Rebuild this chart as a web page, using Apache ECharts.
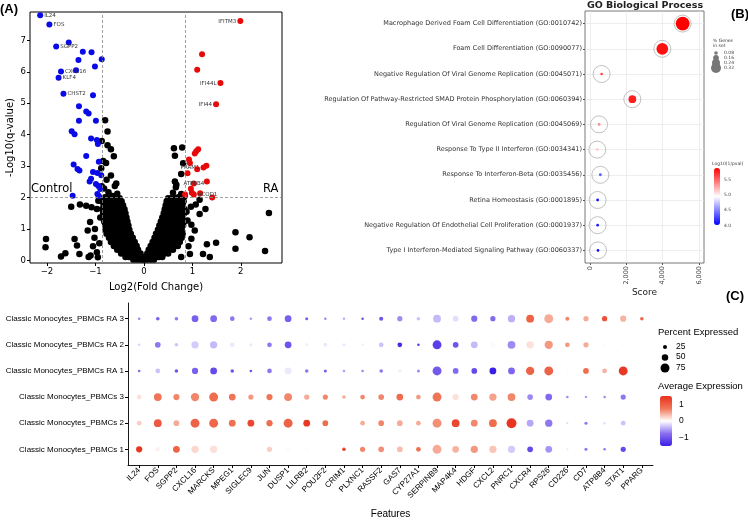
<!DOCTYPE html>
<html>
<head>
<meta charset="utf-8">
<script src="https://cdn.jsdelivr.net/npm/echarts@6/dist/echarts.min.js"></script>
<style>
html,body{margin:0;padding:0;background:#fff;}
#chart{width:748px;height:520px;}
</style>
</head>
<body>
<div id="chart"></div>
<script>
// ---- (A) volcano ----
var downGenes = [
    {name: 'IL24', value: [-2.14, 7.80]}, {name: 'FOS', value: [-1.95, 7.50]},
    {name: 'SGPP2', value: [-1.81, 6.80]}, {name: 'CXCL16', value: [-1.71, 6.01]},
    {name: 'KLF4', value: [-1.76, 5.81]}, {name: 'CHST2', value: [-1.66, 5.30]}
];
var downPts = [[-1.55,6.93],[-1.26,6.64],[-1.08,6.62],[-0.87,6.40],[-1.35,6.37],[-1.40,6.05],[-1.01,6.17],
    [-1.05,5.25],[-1.34,4.90],[-1.19,4.74],[-1.14,4.67],[-1.34,4.44],[-0.99,4.44],[-1.49,4.11],[-1.43,4.01],
    [-1.09,3.88],[-0.97,3.83],[-0.95,3.70],[-1.19,3.32],[-0.93,3.14],[-1.45,3.05],[-1.37,2.91],[-1.33,2.86],
    [-1.05,2.81],[-0.96,2.78],[-0.88,2.71],[-1.09,2.60],[-1.12,2.51],[-0.99,2.43],[-0.94,2.37],[-0.90,2.27],
    [-0.96,2.11],[-0.93,2.05],[-1.47,2.06]];
var upGenes = [
    {name: 'IFITM3', value: [1.99, 7.61], pos: 'left'}, {name: 'IFI44L', value: [1.58, 5.64], pos: 'left'},
    {name: 'IFI44', value: [1.49, 4.97], pos: 'left'}, {name: 'PRAM1', value: [1.23, 2.96], pos: 'left'},
    {name: 'ATP8B4', value: [1.03, 2.45], pos: 'inside'}, {name: 'ACOD1', value: [1.03, 2.10], pos: 'right'}
];
var upPts = [[1.20,6.56],[1.10,6.06],[1.12,3.54],[1.08,3.47],[1.05,3.40],[0.93,3.21],[0.95,3.10],[1.29,3.01],
    [1.10,2.90],[0.90,2.77],[1.30,2.51],[0.97,2.28],[0.99,2.15],[1.16,2.14],[0.85,2.10],[1.41,2.00]];
var nsPts = [[-0.80,4.46],[-0.75,4.10],[-0.87,3.80],[-0.75,3.66],[-0.68,3.54],[-0.62,3.31],[-0.84,3.16],[-0.78,3.10],
    [-0.88,2.93],[-0.68,2.70],[-0.77,2.57],[-0.57,2.45],[-0.60,2.37],[-0.87,2.36],[-0.82,2.29],[-0.73,2.17],
    [-0.80,2.01],[-0.55,2.12],[-0.65,2.05],
    [0.62,3.57],[0.79,3.59],[0.64,3.33],[0.81,3.09],[0.77,2.75],[0.64,2.51],[0.67,2.41],[0.66,2.33],[0.77,2.11],
    [0.84,2.04],[0.71,2.01],[0.60,2.15],
    [-1.50,1.71],[-1.32,1.78],[-1.19,1.74],[-1.08,1.69],[-0.97,1.64],[-1.43,0.68],[-1.38,0.48],[-2.02,0.68],
    [-2.03,0.42],[-1.71,0.13],[-1.62,0.23],[-1.33,0.21],[-1.14,0.11],[-1.10,0.16],[-0.97,0.26],[-1.11,1.22],
    [-1.16,0.95],[-1.01,1.00],[-1.02,0.72],[-0.90,1.37],[-0.94,1.90],[-1.05,0.45],[-0.92,0.55],[-0.95,0.10],
    [2.58,1.51],[2.18,0.74],[1.89,0.90],[1.89,0.37],[2.50,0.30],[1.49,0.56],[1.30,0.52],[1.22,0.21],[1.36,0.11],
    [0.98,0.69],[1.15,1.48],[1.27,1.64],[0.97,1.71],[1.07,1.78],[0.90,1.27],[0.98,1.14],[1.15,1.93],[0.95,0.21],
    [0.77,0.11],[0.92,0.45],[1.05,0.95],[0.88,1.55]];
// dense cloud, by q-value rows
var nsRows = [
    [1.98, [-0.84,-0.77,-0.70,-0.63,-0.56,-0.50, 0.50,0.57,0.64,0.71,0.78]],
    [1.88, [-0.87,-0.80,-0.73,-0.66,-0.59,-0.52,-0.46, 0.47,0.54,0.61,0.68,0.75,0.82]],
    [1.76, [-0.83,-0.76,-0.69,-0.62,-0.55,-0.48,-0.43, 0.45,0.52,0.59,0.66,0.73,0.80]],
    [1.63, [-0.86,-0.79,-0.72,-0.65,-0.58,-0.51,-0.44,-0.40, 0.43,0.50,0.57,0.64,0.71,0.78,0.84]],
    [1.50, [-0.84,-0.77,-0.70,-0.63,-0.56,-0.49,-0.42,-0.38, 0.41,0.48,0.55,0.62,0.69,0.76,0.83]],
    [1.37, [-0.85,-0.78,-0.71,-0.64,-0.57,-0.50,-0.43,-0.36, 0.38,0.45,0.52,0.59,0.66,0.73,0.80]],
    [1.24, [-0.82,-0.75,-0.68,-0.61,-0.54,-0.47,-0.40,-0.34, 0.35,0.42,0.49,0.56,0.63,0.70,0.77,0.83]],
    [1.11, [-0.80,-0.73,-0.66,-0.59,-0.52,-0.45,-0.38,-0.32, 0.32,0.39,0.46,0.53,0.60,0.67,0.74,0.81]],
    [0.98, [-0.79,-0.72,-0.65,-0.58,-0.51,-0.44,-0.37,-0.30, 0.29,0.36,0.43,0.50,0.57,0.64,0.71,0.78]],
    [0.85, [-0.77,-0.70,-0.63,-0.56,-0.49,-0.42,-0.35,-0.27, 0.25,0.32,0.39,0.46,0.53,0.60,0.67,0.74,0.80]],
    [0.72, [-0.72,-0.65,-0.58,-0.51,-0.44,-0.37,-0.30,-0.23, 0.22,0.29,0.36,0.43,0.50,0.57,0.64,0.71,0.78]],
    [0.59, [-0.68,-0.61,-0.54,-0.47,-0.40,-0.33,-0.26,-0.19, 0.18,0.25,0.32,0.39,0.46,0.53,0.60,0.67,0.74]],
    [0.46, [-0.62,-0.55,-0.48,-0.41,-0.34,-0.27,-0.20,-0.15, 0.14,0.21,0.28,0.35,0.42,0.49,0.56,0.63,0.70]],
    [0.34, [-0.55,-0.48,-0.41,-0.34,-0.27,-0.20,-0.12, 0.10,0.17,0.24,0.31,0.38,0.45,0.52,0.60]],
    [0.22, [-0.47,-0.40,-0.33,-0.26,-0.19,-0.12,-0.07, 0.07,0.14,0.21,0.28,0.35,0.42,0.50]],
    [0.11, [-0.38,-0.31,-0.24,-0.17,-0.10,-0.04, 0.04,0.10,0.17,0.24,0.31,0.38]],
    [0.03, [-0.22,-0.15,-0.08,-0.02, 0.01,0.07,0.14,0.21]]
];
var fcCut = 0.85, qCut = 2;
var volcTicksX = [-2, -1, 0, 1, 2];
var volcTicksY = [0, 1, 2, 3, 4, 5, 6, 7];

// ---- (B) GO ----
var goTerms = ['Macrophage Derived Foam Cell Differentiation (GO:0010742)',
    'Foam Cell Differentiation (GO:0090077)',
    'Negative Regulation Of Viral Genome Replication (GO:0045071)',
    'Regulation Of Pathway-Restricted SMAD Protein Phosphorylation (GO:0060394)',
    'Regulation Of Viral Genome Replication (GO:0045069)',
    'Response To Type II Interferon (GO:0034341)',
    'Response To Interferon-Beta (GO:0035456)',
    'Retina Homeostasis (GO:0001895)',
    'Negative Regulation Of Endothelial Cell Proliferation (GO:0001937)',
    'Type I Interferon-Mediated Signaling Pathway (GO:0060337)'];
var goScore = [5100, 3980, 640, 2330, 500, 400, 570, 420, 420, 440];
var goFrac = [0.33, 0.27, 0.02, 0.16, 0.02, 0.015, 0.025, 0.025, 0.02, 0.02];
var goLogP = [5.86, 5.80, 5.60, 5.75, 5.35, 5.15, 4.35, 4.10, 4.10, 4.05];
var goTicks = [0, 2000, 4000, 6000];
var fracLegend = [0.08, 0.16, 0.24, 0.32];
var pLegend = [5.5, 5.0, 4.5, 4.0];

// ---- (C) dot plot ----
var genes = ['IL24','FOS','SGPP2','CXCL16','MARCKS','MPEG1','SIGLEC9','JUN','DUSP1','LILRB2','POU2F2','CRIM1',
    'PLXNC1','RASSF2','GAS7','CYP27A1','SERPINB9','MAP4K4','HDGF','CXCL2','PNRC1','CXCR4','RPS26','CD226','CD7',
    'ATP8B4','STAT1','PPARG'];
var groups = ['Classic Monocytes_PBMCs 1','Classic Monocytes_PBMCs 2','Classic Monocytes_PBMCs 3',
    'Classic Monocytes_PBMCs RA 1','Classic Monocytes_PBMCs RA 2','Classic Monocytes_PBMCs RA 3'];
var pctExp = [
    [47,32,53,58,58,21,11,37,32,21,16,21,37,42,42,32,74,53,58,58,58,42,53,11,16,11,37,5],
    [32,63,42,74,74,53,53,47,74,53,42,16,32,42,42,32,74,63,53,63,84,53,58,5,16,11,32,5],
    [32,63,47,68,74,53,37,47,63,37,37,21,32,42,53,32,74,47,53,58,63,42,53,11,11,11,37,5],
    [11,32,21,47,53,21,11,32,53,21,16,11,11,21,21,16,74,42,42,53,53,68,74,11,42,32,74,11],
    [11,42,21,58,58,32,16,32,53,21,26,16,16,32,32,11,74,42,53,42,63,58,68,32,37,16,11,11],
    [11,21,21,53,53,32,11,32,53,16,11,11,11,26,37,21,63,42,47,37,58,63,74,26,37,37,47,21]
];
var avgExp = [
    [1.5,0.1,1.0,0.25,0.2,0.02,0.02,0.3,0.05,0.05,0.03,1.35,0.7,0.65,0.4,0.85,0.5,0.45,0.6,0.35,-0.25,-1.1,-0.55,-0.05,-0.7,-0.7,-1.1,0.05],
    [0.3,1.1,0.5,1.0,0.95,0.85,1.3,0.9,1.0,1.45,0.9,0.05,0.5,0.7,0.5,0.5,0.65,1.3,0.7,0.9,1.5,-0.45,-0.7,-0.2,-0.7,-0.15,-0.3,0.05],
    [0.2,0.8,0.7,0.7,0.9,0.8,0.6,0.8,0.7,0.5,0.7,0.5,0.7,0.7,0.9,0.6,0.8,0.2,0.7,0.55,0.7,-0.6,-0.8,-0.6,-0.5,-0.6,-0.7,0.02],
    [-0.8,-0.3,-1.0,-0.9,-1.1,-1.0,-1.0,-0.7,-0.1,-0.7,-0.9,-0.5,-0.6,-0.7,-0.05,-0.6,-0.95,-0.8,-1.1,-1.5,-0.85,1.0,1.0,0.0,0.9,0.45,1.45,0.05],
    [-0.2,-0.7,-0.3,-0.25,-0.35,-0.1,-0.1,-0.7,-1.0,-0.05,-0.1,-0.1,-0.05,-0.3,-1.4,-1.2,-1.2,-1.0,-0.35,0.0,-0.6,0.2,0.6,0.6,0.5,0.05,0.0,0.05],
    [-0.6,-0.9,-0.7,-0.9,-0.8,-0.7,-0.5,-0.7,-0.9,-0.9,-0.6,-0.4,-1.0,-1.0,-0.6,-0.3,-0.35,-0.15,-0.8,-0.8,-0.4,1.0,0.5,0.7,0.5,1.2,0.45,0.95]
];
var pctLegend = [25, 50, 75];
var avgLegend = [1, 0, -1];

// build series data
var nsData = nsPts.slice();
nsRows.forEach(function (r) {
    r[1].forEach(function (x) { nsData.push([x, r[0]]); });
});
var downData = downPts.concat(downGenes.map(function (g) {
    return {name: g.name, value: g.value, label: {show: true, position: 'right', distance: 1}};
}));
var upData = upPts.concat(upGenes.map(function (g) {
    return {name: g.name, value: g.value, label: {show: true, position: g.pos, distance: 1}};
}));
var goOuter = goScore.map(function (s, i) { return [s, i + 1]; });
var goInner = goScore.map(function (s, i) { return [s, i + 1, goLogP[i], goFrac[i]]; });
var dotData = [];
groups.forEach(function (g, gi) {
    genes.forEach(function (gn, i) { dotData.push([i, gi, pctExp[gi][i], avgExp[gi][i]]); });
});
var rowIdx = goTerms.map(function (t, i) { return i + 1; });
var geneIdx = genes.map(function (g, i) { return i; });
var grpIdx = groups.map(function (g, i) { return i; });

function fracSize(f) { return 2 + 36 * f; }
function pctSize(p) { return 1.5 + 0.1 * p; }

var dv = 'DejaVu Sans', lib = 'Liberation Sans';
var graphics = [
    {type: 'text', left: 0, top: 3, style: {text: '(A)', font: 'bold 13px ' + lib, fill: '#000'}},
    {type: 'text', left: 731, top: 8, style: {text: '(B)', font: 'bold 13px ' + lib, fill: '#000'}},
    {type: 'text', left: 726, top: 290, style: {text: '(C)', font: 'bold 13px ' + lib, fill: '#000'}},
    {type: 'text', x: 645, y: 1, style: {text: 'GO Biological Process', font: 'bold 9.5px ' + dv, fill: '#222', align: 'center'}},
    {type: 'text', left: 31, top: 183, style: {text: 'Control', font: '11.5px ' + dv, fill: '#000'}},
    {type: 'text', left: 263, top: 183, style: {text: 'RA', font: '11.5px ' + dv, fill: '#000'}},
    {type: 'text', left: 713, top: 38, style: {text: '% Genes\nin set', font: '4.5px ' + dv, fill: '#444', lineHeight: 5}},
    {type: 'text', left: 712, top: 161, style: {text: 'Log10(1/pval)', font: '4.5px ' + dv, fill: '#444'}},
    {type: 'text', left: 658, top: 327, style: {text: 'Percent Expressed', font: '9.5px ' + lib, fill: '#000'}},
    {type: 'text', left: 658, top: 381, style: {text: 'Average Expression', font: '9.5px ' + lib, fill: '#000'}}
];
fracLegend.forEach(function (f, i) {
    var cy = 53 + i * 5;
    graphics.push({type: 'circle', shape: {cx: 716, cy: cy, r: [1.8, 2.9, 4.0, 5.0][i]}, style: {fill: '#777'}, z: 10 - i});
    graphics.push({type: 'text', left: 724, top: cy - 2.5, style: {text: f.toFixed(2), font: '4.5px ' + dv, fill: '#444'}});
});
pLegend.forEach(function (p, i) {
    graphics.push({type: 'text', left: 724, top: 177 + i * 15.3, style: {text: p.toFixed(1), font: '4.5px ' + dv, fill: '#444'}});
});
pctLegend.forEach(function (p, i) {
    var cy = 347 + i * 10.5;
    graphics.push({type: 'circle', shape: {cx: 665, cy: cy, r: pctSize(p) / 2}, style: {fill: '#000'}});
    graphics.push({type: 'text', left: 676, top: cy - 5, style: {text: String(p), font: '8.5px ' + lib, fill: '#000'}});
});
avgLegend.forEach(function (v, i) {
    graphics.push({type: 'text', left: 679, top: 400 + i * 16.5, style: {text: v < 0 ? '\u22121' : String(v), font: '8.5px ' + lib, fill: '#000'}});
});

var option = {
    animation: false,
    backgroundColor: '#fff',
    textStyle: {fontFamily: dv},
    graphic: graphics,
    grid: [
        {left: 30, top: 12, width: 252, height: 251, show: true, borderColor: '#000', borderWidth: 1},
        {left: 585, top: 11, width: 119, height: 252, show: true, borderColor: '#555', borderWidth: 0.8},
        {left: 128, top: 303, width: 525, height: 169}
    ],
    xAxis: [
        {gridIndex: 0, type: 'value', min: -2.35, max: 2.85, name: 'Log2(Fold Change)', nameLocation: 'middle', nameGap: 19,
            nameTextStyle: {fontSize: 10, color: '#000', fontFamily: dv},
            axisLine: {show: false, onZero: false}, splitLine: {show: false},
            axisTick: {customValues: volcTicksX, length: 3, lineStyle: {color: '#000'}},
            axisLabel: {customValues: volcTicksX, fontSize: 8.5, color: '#000', fontFamily: dv, margin: 4,
                formatter: function (v) { return v < 0 ? '\u2212' + (-v) : String(v); }}},
        {gridIndex: 1, type: 'value', min: -275, max: 6275, name: 'Score', nameLocation: 'middle', nameGap: 22,
            nameTextStyle: {fontSize: 9, color: '#222', fontFamily: dv},
            axisLine: {show: false, onZero: false}, splitLine: {show: false},
            axisTick: {customValues: goTicks, length: 2, lineStyle: {color: '#555'}},
            axisLabel: {customValues: goTicks, fontSize: 6.5, color: '#444', rotate: 90, margin: 3, fontFamily: dv}},
        {gridIndex: 2, type: 'value', min: -0.6, max: 27.6, name: 'Features', nameLocation: 'middle', nameGap: 44,
            nameTextStyle: {fontSize: 10, color: '#000', fontFamily: lib},
            axisLine: {show: true, onZero: false, lineStyle: {color: '#000', width: 0.9}}, splitLine: {show: false},
            axisTick: {customValues: geneIdx, length: 3, lineStyle: {color: '#000'}},
            axisLabel: {customValues: geneIdx, rotate: 45, fontSize: 8, color: '#000', margin: 4, fontFamily: lib,
                formatter: function (v) { return genes[v]; }}}
    ],
    yAxis: [
        {gridIndex: 0, type: 'value', min: -0.08, max: 7.9, name: '-Log10(q-value)', nameLocation: 'middle', nameGap: 15,
            nameTextStyle: {fontSize: 10, color: '#000', fontFamily: dv},
            axisLine: {show: false, onZero: false}, splitLine: {show: false},
            axisTick: {customValues: volcTicksY, length: 3, lineStyle: {color: '#000'}},
            axisLabel: {customValues: volcTicksY, fontSize: 8.5, color: '#000', margin: 4, fontFamily: dv}},
        {gridIndex: 1, type: 'value', min: 0.5, max: 10.5, inverse: true,
            axisLine: {show: false, onZero: false}, splitLine: {show: false},
            axisTick: {customValues: rowIdx, length: 2, lineStyle: {color: '#555'}},
            axisLabel: {customValues: rowIdx, fontSize: 6.5, color: '#333', margin: 3, fontFamily: dv,
                formatter: function (v) { return goTerms[v - 1]; }}},
        {gridIndex: 2, type: 'value', min: -0.6, max: 5.6,
            axisLine: {show: true, onZero: false, lineStyle: {color: '#000', width: 0.9}}, splitLine: {show: false},
            axisTick: {customValues: grpIdx, length: 3, lineStyle: {color: '#000'}},
            axisLabel: {customValues: grpIdx, fontSize: 8, color: '#000', margin: 4, fontFamily: lib,
                formatter: function (v) { return groups[v]; }}}
    ],
    visualMap: [
        {type: 'continuous', seriesIndex: 4, dimension: 2, min: 4.0, max: 5.86, calculable: false, show: true,
            left: 714, top: 168, itemWidth: 6, itemHeight: 57, padding: 0, text: null,
            inRange: {color: ['#0000ff', '#ffffff', '#ff0000']}},
        {type: 'continuous', seriesIndex: 5, dimension: 3, min: -1.5, max: 1.55, calculable: false, show: true,
            left: 660, top: 396, itemWidth: 12, itemHeight: 50, padding: 0, text: null,
            inRange: {color: ['#3a1ee6', '#8a70f0', '#ffffff', '#f07658', '#e8301c']}}
    ],
    series: [
        {type: 'scatter', xAxisIndex: 0, yAxisIndex: 0, data: nsData, symbolSize: 6.5, itemStyle: {color: '#000', opacity: 1},
            markLine: {silent: true, symbol: 'none', label: {show: false},
                lineStyle: {color: '#888', type: [3, 2], width: 0.8},
                data: [{xAxis: -fcCut}, {xAxis: fcCut}, {yAxis: qCut}]}},
        {type: 'scatter', xAxisIndex: 0, yAxisIndex: 0, data: downData, symbolSize: 6, itemStyle: {color: '#0a0ae6', opacity: 1},
            label: {formatter: '{b}', fontSize: 5.5, color: '#333', fontFamily: dv}},
        {type: 'scatter', xAxisIndex: 0, yAxisIndex: 0, data: upData, symbolSize: 6, itemStyle: {color: '#e60a0a', opacity: 1},
            label: {formatter: '{b}', fontSize: 5.5, color: '#333', fontFamily: dv}},
        {type: 'scatter', xAxisIndex: 1, yAxisIndex: 1, data: goOuter, symbolSize: 17, z: 1,
            itemStyle: {color: 'rgba(255,255,255,0)', borderColor: '#999', borderWidth: 0.6, opacity: 1},
            markLine: {silent: true, symbol: 'none', label: {show: false}, z: 0,
                lineStyle: {color: '#e3e3e3', type: 'solid', width: 0.6},
                data: rowIdx.map(function (r) { return {yAxis: r}; }).concat(goTicks.map(function (t) { return {xAxis: t}; }))}},
        {type: 'scatter', xAxisIndex: 1, yAxisIndex: 1, data: goInner, z: 3, itemStyle: {opacity: 1},
            symbolSize: function (v) { return fracSize(v[3]); }},
        {type: 'scatter', xAxisIndex: 2, yAxisIndex: 2, data: dotData, itemStyle: {opacity: 1},
            symbolSize: function (v) { return pctSize(v[2]); }}
    ]
};

var myChart = echarts.init(document.getElementById('chart'));
myChart.setOption(option);
window.onresize = function () {
    myChart.resize();
};
</script>
</body>
</html>
